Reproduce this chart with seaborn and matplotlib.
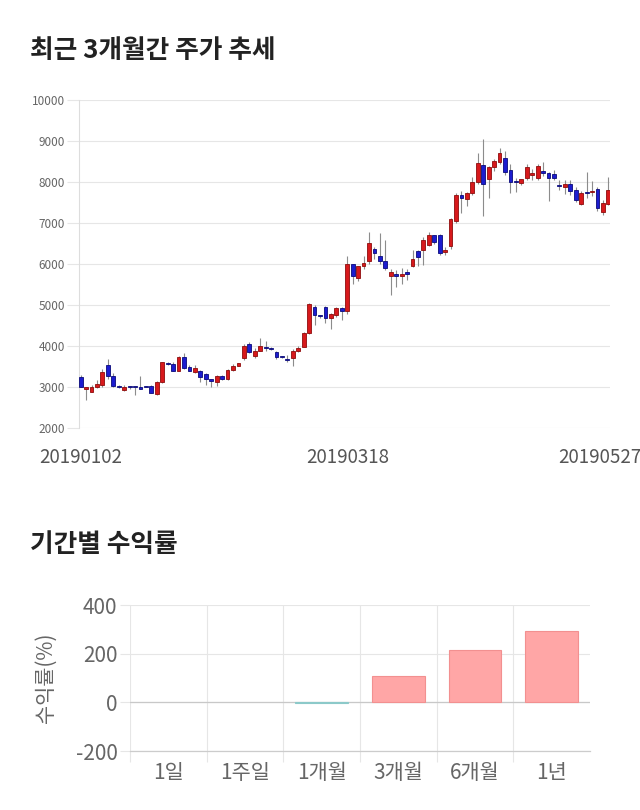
import numpy as np
import pandas as pd
import matplotlib
matplotlib.use("Agg")
import matplotlib.pyplot as plt
import seaborn as sns
from matplotlib.transforms import ScaledTranslation

# ---------------- data ----------------
tick_positions = [0, 49, 97]
tick_labels = ["20190102", "20190318", "20190527"]

opens = [
    3252, 2960, 2886, 2992, 3049, 3537, 3268, 3020, 2927, 2995,
    2995, 2967, 3008, 3024, 2821, 3114, 3575, 3560, 3398, 3740,
    3480, 3374, 3398, 3317, 3187, 3130, 3268, 3187, 3415, 3520,
    3699, 4041, 3756, 3886, 3965, 3959, 3862, 3745, 3665, 3699,
    3886, 3984, 4309, 4943, 4740, 4959, 4683, 4748, 4919, 4862,
    5992, 5650, 5959, 6081, 6358, 6203, 6073, 5715, 5764, 5715,
    5813, 5951, 6309, 6341, 6472, 6699, 6699, 6293, 6447, 7049,
    7691, 7577, 7740, 8008, 8407, 8073, 8358, 8496, 8593, 8293,
    8000, 7967, 8089, 8179, 8106, 8260, 8211, 8187, 7915, 7886,
    7951, 7805, 7455, 7745, 7756, 7821, 7260, 7455,
]
closes = [
    3008, 3000, 3008, 3073, 3374, 3276, 3024, 3000, 3000, 2990,
    2990, 2962, 3003, 2862, 3114, 3602, 3560, 3398, 3740, 3455,
    3398, 3455, 3252, 3187, 3146, 3268, 3187, 3415, 3520, 3577,
    4008, 3846, 3886, 4008, 3959, 3919, 3740, 3740, 3659, 3878,
    3959, 4309, 5024, 4748, 4732, 4683, 4772, 4935, 4862, 5992,
    5715, 5951, 6024, 6504, 6260, 6073, 5894, 5813, 5715, 5764,
    5764, 6114, 6179, 6577, 6699, 6545, 6260, 6341, 7089, 7691,
    7610, 7724, 8008, 8472, 7951, 8358, 8504, 8699, 8236, 7992,
    7992, 8065, 8374, 8228, 8390, 8211, 8089, 8106, 7905, 7951,
    7789, 7561, 7724, 7740, 7789, 7374, 7496, 7805,
]
highs = [
    3300, 3010, 3050, 3170, 3450, 3675, 3350, 3040, 3050, 3020,
    3010, 3268, 3030, 3040, 3140, 3620, 3620, 3600, 3760, 3821,
    3530, 3540, 3420, 3340, 3200, 3290, 3290, 3440, 3560, 3590,
    4040, 4100, 3950, 4187, 4130, 3980, 3880, 3760, 3790, 3920,
    3990, 4340, 5060, 5000, 4760, 4980, 4800, 4960, 4960, 6195,
    6000, 5960, 6200, 6789, 6420, 6750, 6585, 5880, 5850, 5900,
    5880, 6350, 6330, 6670, 6780, 6700, 6720, 6420, 7110, 7740,
    7780, 7760, 8130, 8700, 9041, 8400, 8560, 8830, 8760, 8440,
    8100, 8080, 8450, 8310, 8450, 8480, 8250, 8290, 8040, 8060,
    8050, 7870, 7780, 8250, 8020, 7880, 7560, 8120,
]
lows = [
    3000, 2683, 2870, 2970, 3010, 3200, 3008, 2970, 2900, 2960,
    2810, 2960, 2990, 2850, 2800, 3100, 3530, 3380, 3390, 3430,
    3380, 3330, 3120, 3060, 3010, 3020, 3170, 3170, 3390, 3500,
    3660, 3820, 3700, 3870, 3880, 3900, 3680, 3700, 3620, 3512,
    3860, 3970, 4290, 4520, 4680, 4550, 4407, 4700, 4640, 4790,
    5512, 5580, 5870, 6000, 6120, 6000, 5850, 5244, 5431, 5500,
    5620, 5920, 5950, 5975, 6440, 6480, 6230, 6230, 6360, 7000,
    7240, 7420, 7690, 7950, 7171, 7602, 8270, 8430, 8170, 7720,
    7750, 7920, 8050, 8060, 8060, 8150, 7540, 8060, 7800, 7700,
    7690, 7500, 7430, 7600, 7670, 7300, 7200, 7430,
]

periods = ["1일", "1주일", "1개월", "3개월", "6개월", "1년"]
returns = [0.0, 0.0, -2.0, 107.0, 216.0, 292.0]

# ---------------- style ----------------
sns.set_theme(style="white")
plt.rcParams["font.family"] = ["Noto Sans CJK KR", "DejaVu Sans"]
plt.rcParams["axes.unicode_minus"] = False

GRID = "#e6e6e6"
fig = plt.figure(figsize=(6.4, 8.1), dpi=100)

fig.text(30 / 640, 1 - 51 / 810, "최근 3개월간 주가 추세", fontsize=18.5,
         fontweight="bold", color="#222222", va="center", ha="left")
fig.text(30 / 640, 1 - 544 / 810, "기간별 수익률", fontsize=18.5,
         fontweight="bold", color="#222222", va="center", ha="left")

# ---------------- candlestick chart ----------------
ax1 = fig.add_axes([79 / 640, 1 - 428 / 810, (610 - 79) / 640, (428 - 100) / 810])
o = np.array(opens, dtype=float)
c = np.array(closes, dtype=float)
h = np.array(highs, dtype=float)
l = np.array(lows, dtype=float)
x = np.arange(len(o))
up = c >= o
face = np.where(up, "#d7191c", "#1c1ccf")
edge = np.where(up, "#8e0c0c", "#0a0a7a")

ax1.vlines(x, l, h, color="#8c8c8c", lw=0.8, zorder=2)
ax1.bar(x, np.maximum(np.abs(c - o), 28), bottom=np.minimum(o, c), width=0.7,
        color=face, edgecolor=edge, linewidth=0.6, zorder=3)

ax1.set_xlim(-0.3, 97.3)
ax1.set_ylim(2000, 10000)
ax1.set_yticks(range(2000, 10001, 1000))
ax1.yaxis.grid(True, color=GRID, lw=0.8)
ax1.xaxis.grid(False)
for s in ["top", "right", "bottom"]:
    ax1.spines[s].set_visible(False)
ax1.spines["left"].set_color("#dddddd")
ax1.spines["left"].set_linewidth(0.8)
ax1.tick_params(axis="y", length=9, width=0.8, color=GRID, labelsize=8.5,
                labelcolor="#666666", pad=1, left=True)
ax1.set_xticks(tick_positions)
ax1.set_xticklabels(tick_labels)
ax1.tick_params(axis="x", length=0, pad=14, labelsize=13.5, labelcolor="#555555")
last = ax1.get_xticklabels()[-1]
last.set_transform(last.get_transform() + ScaledTranslation(-9 / 100, 0, fig.dpi_scale_trans))

# ---------------- returns chart ----------------
ax2 = fig.add_axes([130 / 640, 1 - 751 / 810, 460 / 640, (751 - 605) / 810])
df = pd.DataFrame({"기간": periods, "수익률": returns})
bar_colors = ["#ffa6a6" if v >= 0 else "#a3d9d9" for v in returns]
edge_colors = ["#f29090" if v >= 0 else "#8cc9c9" for v in returns]
sns.barplot(data=df, x="기간", y="수익률", hue="기간", palette=bar_colors,
            legend=False, ax=ax2, width=0.69, saturation=1, zorder=3)
for p, ec, v in zip(ax2.patches, edge_colors, returns):
    p.set_edgecolor(ec)
    p.set_linewidth(0.8 if v != 0 else 0)

ax2.set_xlim(-0.5, 5.5)
ax2.set_ylim(-200, 400)
ax2.set_yticks([-200, 0, 200, 400])
ax2.yaxis.grid(True, color=GRID, lw=0.8)
ax2.set_xticks([i - 0.5 for i in range(len(periods))], minor=True)
ax2.xaxis.grid(True, which="minor", color=GRID, lw=0.8)
ax2.xaxis.grid(False, which="major")
ax2.axhline(0, color="#c8c8c8", lw=0.9, zorder=2)
for s in ["top", "right", "left"]:
    ax2.spines[s].set_visible(False)
ax2.spines["bottom"].set_color("#cccccc")
ax2.spines["bottom"].set_linewidth(0.9)
ax2.tick_params(axis="y", length=7, width=0.8, color=GRID, labelsize=15,
                labelcolor="#666666", pad=2, left=True)
ax2.tick_params(axis="x", which="major", length=0, pad=8, labelsize=15,
                labelcolor="#666666")
ax2.tick_params(axis="x", which="minor", length=8, width=0.8, color=GRID, bottom=True)
ax2.set_xlabel("")
ax2.set_ylabel("수익률(%)", fontsize=15, color="#666666")
ax2.yaxis.set_label_coords(-0.16, 0.5)

fig.savefig("out.png", dpi=100)
